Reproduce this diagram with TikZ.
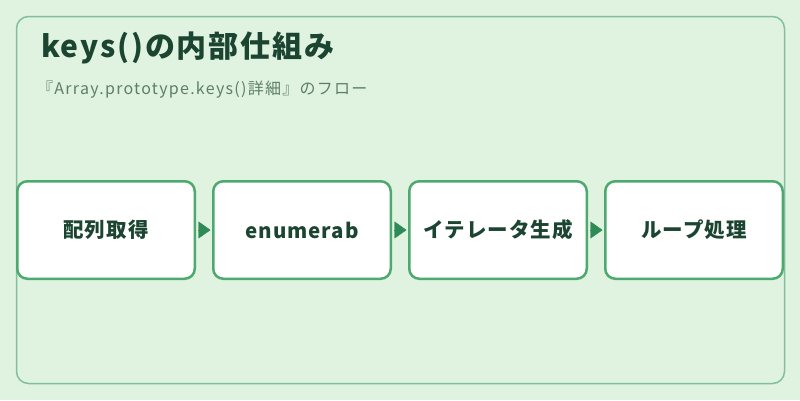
\documentclass[tikz,border=0pt]{standalone}
\usepackage{fontspec}
\setmainfont{Noto Sans CJK JP}
\usetikzlibrary{positioning,arrows.meta}

\definecolor{fond}{HTML}{E0F2E0}
\definecolor{cadre}{HTML}{82C09A}
\definecolor{bord}{HTML}{4CAA6E}
\definecolor{fleche}{HTML}{2E8B57}
\definecolor{titre}{HTML}{1B4530}
\definecolor{soustitre}{HTML}{5E7F66}

\tikzset{
    etape/.style={draw=bord, line width=2.5pt, fill=white, rounded corners=10pt,
        minimum width=177.5pt, minimum height=97.5pt, inner sep=0pt,
        text=titre, font=\fontsize{20.5}{24}\selectfont\bfseries\addfontfeature{LetterSpace=5}},
    suite/.style={draw=fleche, fill=fleche, line width=.4pt,
        -{Triangle[length=12pt,width=17pt]}, shorten <=2pt, shorten >=1.5pt},
}

\begin{document}
\begin{tikzpicture}[x=1pt,y=-1pt]
    % fond
    \fill[fond] (0,0) rectangle (800,400);
    \useasboundingbox (0,0) rectangle (800,400);
    \draw[cadre, line width=1.5pt, rounded corners=12pt] (16.5,16.5) rectangle (784.5,383.5);

    % titres
    \node[anchor=base west, inner sep=0pt, text=titre,
        font=\fontsize{30}{34}\selectfont\bfseries\addfontfeature{LetterSpace=6}]
        (titre) at (41,57) {keys()の内部仕組み};
    \node[anchor=base west, inner sep=0pt, text=soustitre,
        font=\fontsize{16}{19}\selectfont\addfontfeature{LetterSpace=8}]
        (soustitre) at (37,94) {『Array.prototype.keys()詳細』のフロー};

    % etapes
    \node[etape] (tableau) at (106,230) {配列取得};
    \node[etape, right=16pt of tableau] (enum) {enumerab};
    \node[etape, right=16pt of enum] (iter) {イテレータ生成};
    \node[etape, right=16pt of iter] (boucle) {ループ処理};

    % fleches
    \draw[suite] (tableau) -- (enum);
    \draw[suite] (enum) -- (iter);
    \draw[suite] (iter) -- (boucle);
\end{tikzpicture}
\end{document}
